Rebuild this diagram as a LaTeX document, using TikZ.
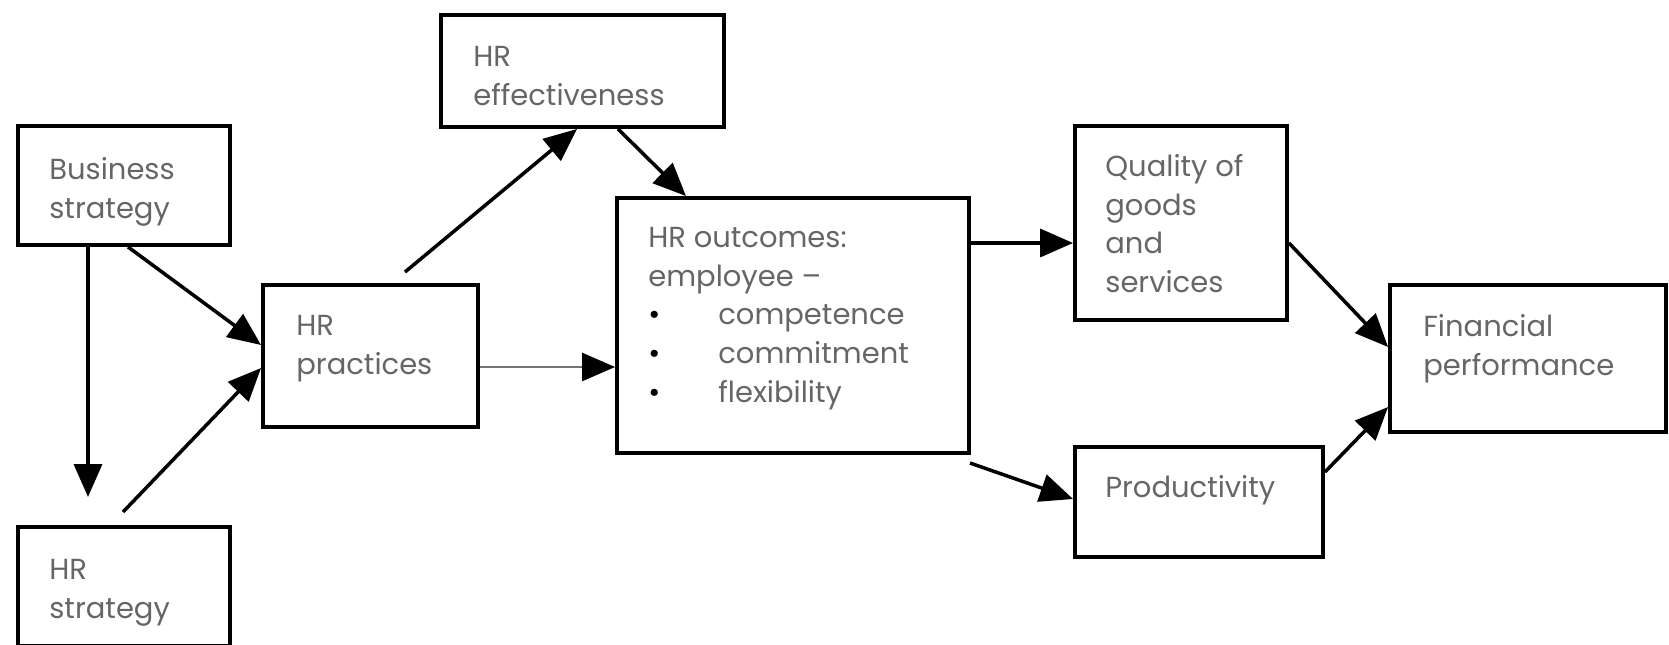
\documentclass[tikz,border=0pt]{standalone}
\usepackage{fontspec}
\setmainfont{Poppins}
\usetikzlibrary{arrows.meta}

\begin{document}
\begin{tikzpicture}[x=0.2mm, y=-0.2mm,
  box/.style={draw, line width=2.2pt, inner sep=0pt},
  txt/.style={anchor=north west, inner sep=0pt, align=left, text=black!60,
    font=\fontsize{16.5}{22}\selectfont},
  arr/.style={line width=2pt, -{Triangle[length=6.6mm, width=5.6mm, color=black]}}]
\useasboundingbox (0,0) rectangle (1669,644);
% Business strategy
\node[box, minimum width=42.4mm, minimum height=23.8mm] (bs) at (124,185.5) {};
\node[txt] (bs-t) at (49,157) {Business\\strategy};
% HR strategy
\node[box, minimum width=42.4mm, minimum height=23.8mm] (hrs) at (124,586.5) {};
\node[txt] (hrs-t) at (49,559) {HR\\strategy};
% HR practices
\node[box, minimum width=43mm, minimum height=28.4mm] (hrp) at (370.5,356) {};
\node[txt] (hrp-t) at (296,315) {HR\\practices};
% HR effectiveness
\node[box, minimum width=56.6mm, minimum height=22.4mm] (hre) at (582.5,71) {};
\node[txt] (hre-t) at (473,46) {HR\\effectiveness};
% HR outcomes
\node[box, minimum width=70.4mm, minimum height=51mm] (hro) at (793,325.5) {};
\node[txt] (hro-t) at (648,227) {HR outcomes:\\employee –\\
  \makebox[14mm][l]{\color{black}\textbullet}competence\\
  \makebox[14mm][l]{\color{black}\textbullet}commitment\\
  \makebox[14mm][l]{\color{black}\textbullet}flexibility};
% Quality of goods and services
\node[box, minimum width=42.4mm, minimum height=38.8mm] (qual) at (1181,223) {};
\node[txt] (qual-t) at (1105,154) {Quality of\\goods\\and\\services};
% Productivity
\node[box, minimum width=49.6mm, minimum height=22mm] (prod) at (1199,502) {};
\node[txt] (prod-t) at (1105,475) {Productivity};
% Financial performance
\node[box, minimum width=55.2mm, minimum height=29.4mm] (fin) at (1528,358.5) {};
\node[txt] (fin-t) at (1423,314) {Financial\\performance};
% free ends
\coordinate (t1) at (88,497);
\coordinate (s3) at (123,512);
\coordinate (s4) at (405,272);
\coordinate (s8) at (970,463);
% arrows
\draw[arr] (bs.south -| t1) -- (t1);
\draw[arr] (bs.south -| 128,0) -- (hrp.west |- 0,345);
\draw[arr] (s3) -- (hrp.west |- 0,368);
\draw[arr] (s4) -- (hre.south -| 577,0);
\draw[arr] (hre.south -| 618,0) -- (hro.north -| 686,0);
\draw[arr, draw=black!55, line width=1.5pt] (hrp.east |- 0,367) -- (hro.west |- 0,367);
\draw[arr] (hro.east |- 0,243) -- (qual.west |- 0,243);
\draw[arr] (s8) -- (prod.west |- 0,499);
\draw[arr] (qual.east |- 0,243) -- (fin.west |- 0,347);
\draw[arr] (prod.east |- 0,472) -- (fin.west |- 0,407);
\end{tikzpicture}
\end{document}
